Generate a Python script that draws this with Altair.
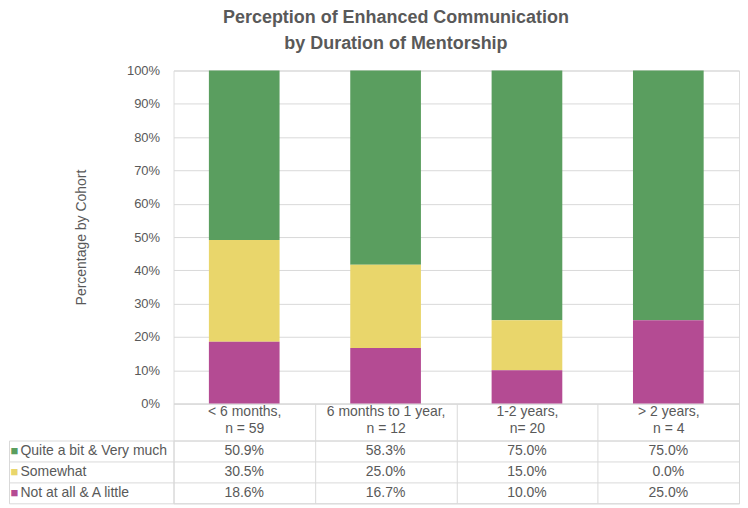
import altair as alt
import pandas as pd

# ---- data ----
categories = ["< 6 months,|n = 59", "6 months to 1 year,|n = 12", "1-2 years,|n= 20", "> 2 years,|n = 4"]
series = ["Quite a bit & Very much", "Somewhat", "Not at all & A little"]
quite_values = [50.9, 58.3, 75.0, 75.0]
somewhat_values = [30.5, 25.0, 15.0, 0.0]
not_at_all_values = [18.6, 16.7, 10.0, 25.0]
series_colors = ["#5A9E5F", "#E9D66B", "#B44B93"]
y_tick_values = [0, 10, 20, 30, 40, 50, 60, 70, 80, 90, 100]

records = []
for s_i, (s, vals) in enumerate(zip(series, [quite_values, somewhat_values, not_at_all_values])):
    for c, v in zip(categories, vals):
        records.append({"category": c, "series": s, "value": v, "stack_order": len(series) - 1 - s_i})
df = pd.DataFrame(records)

text_color = "#595959"
line_color = "#d9d9d9"
font = "Liberation Sans"
left_col = 165
plot_w = 567

x_scale = alt.Scale(domain=categories, paddingInner=0, paddingOuter=0)
color_scale = alt.Scale(domain=series, range=series_colors)

bars = alt.Chart(df).mark_bar(width=alt.RelativeBandSize(band=0.5)).encode(
    x=alt.X("category:N", scale=x_scale, sort=categories, axis=alt.Axis(
        title=None, labelExpr="split(datum.label, '|')", labelAngle=0,
        labelFontSize=14, labelColor=text_color, labelLineHeight=17, labelBaseline="top",
        labelPadding=-36, tickBand="extent", tickSize=37, tickColor=line_color,
        domainColor=line_color, ticks=True, domain=True, grid=False)),
    y=alt.Y("value:Q", stack="zero", scale=alt.Scale(domain=[0, 100], nice=False), axis=alt.Axis(
        values=y_tick_values, labelExpr="datum.value + '%'", title="Percentage by Cohort",
        titleFontSize=14, titleFontWeight="normal", titleColor=text_color, titlePadding=38,
        labelFontSize=13, labelColor=text_color, labelPadding=14, ticks=False, domain=False,
        gridColor=line_color)),
    color=alt.Color("series:N", scale=color_scale, legend=None),
    order=alt.Order("stack_order:Q"),
).properties(width=plot_w, height=334)

row_scale = alt.Scale(domain=series, paddingInner=0, paddingOuter=0)
table_x_axis = alt.Axis(title=None, labels=False, ticks=False, domain=False, grid=True,
                        tickBand="extent", gridColor=line_color)

text_layer = alt.Chart(df).transform_calculate(
    label="format(datum.value, '.1f') + '%'"
).mark_text(fontSize=14, color=text_color, font=font).encode(
    x=alt.X("category:N", scale=x_scale, sort=categories, axis=table_x_axis),
    y=alt.Y("series:N", scale=row_scale, sort=series, axis=alt.Axis(
        title=None, labelAlign="left", labelPadding=-11, tickSize=left_col, tickBand="extent",
        tickColor=line_color, grid=True, gridColor=line_color, domain=False,
        labelFontSize=14, labelColor=text_color)),
    text="label:N",
)

key_color = {
    "condition": [
        {"test": f"datum.value == '{series[0]}'", "value": series_colors[0]},
        {"test": f"datum.value == '{series[1]}'", "value": series_colors[1]},
    ],
    "value": series_colors[2],
}

key_layer = alt.Chart(df).mark_point(opacity=0).encode(
    x=alt.X("category:N", scale=x_scale, sort=categories, axis=table_x_axis),
    y=alt.Y("series:N", scale=row_scale, sort=series, axis=alt.Axis(
        orient="left", title=None, offset=left_col, labelPadding=-1, labelAlign="left",
        ticks=False, grid=False, domain=True, domainColor=line_color,
        labelExpr="'■'", labelColor=key_color, labelFontSize=13)),
)

table = alt.layer(text_layer, key_layer).resolve_scale(y="independent").properties(
    width=plot_w, height=63, view=alt.ViewBackground(stroke=line_color)
)

chart = alt.vconcat(bars, table, spacing=37, bounds="flush").resolve_scale(
    x="independent"
).properties(
    title=alt.TitleParams(
        ["Perception of Enhanced Communication", "by Duration of Mentorship"],
        fontSize=18, font=font, fontWeight="bold", color=text_color,
        anchor="middle", lineHeight=26, offset=11, frame="bounds", dx=22),
    padding={"left": 0, "top": 0, "right": 0, "bottom": 0},
).configure_view(stroke="transparent").configure(font=font)

chart.save("out.html", embed_options={"renderer": "svg", "actions": False})
